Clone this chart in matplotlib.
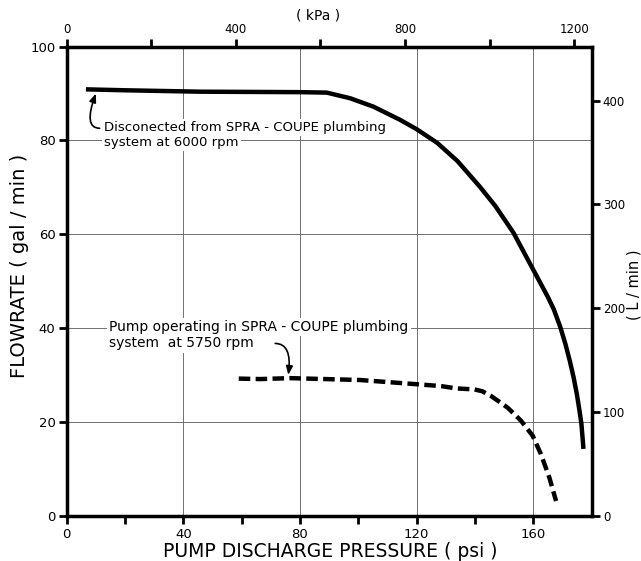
import matplotlib
matplotlib.use("Agg")
import matplotlib.pyplot as plt

# ---- data ----
solid_psi = [6.6, 20, 45.7, 80, 89.2, 97.2, 105.2, 114.3, 120, 127, 134, 141.7, 147,
             153.2, 160, 165, 167, 169.2, 171, 172.5, 173.8, 174.9, 175.8, 176.5, 177.2]
solid_gpm = [90.9, 90.7, 90.4, 90.3, 90.2, 89.0, 87.2, 84.4, 82.4, 79.5, 75.6, 70.1, 66.0,
             60.3, 52.4, 46.6, 44.0, 40.3, 36.6, 33.0, 29.5, 26.0, 22.5, 19.5, 14.2]

dashed_psi = [59, 66.3, 76.6, 100.6, 120, 128.4, 133.7, 139.8, 142.5, 145.5, 151.2,
              155.8, 159.8, 162.6, 165.5, 167.8]
dashed_gpm = [29.2, 29.1, 29.3, 28.9, 28.0, 27.6, 27.1, 26.9, 26.5, 25.5, 23.0,
              20.2, 17.0, 13.1, 8.1, 3.1]

psi_major = [0, 40, 80, 120, 160]
psi_minor = [20, 60, 100, 140]
gpm_ticks = [0, 20, 40, 60, 80, 100]
kpa_major = [0, 400, 800, 1200]
kpa_minor = [200, 600, 1000]
lpm_ticks = [0, 100, 200, 300, 400]

solid_text = ["Disconected from SPRA - COUPE plumbing", "system at 6000 rpm"]
dashed_text = ["Pump operating in SPRA - COUPE plumbing", "system  at 5750 rpm"]

PSI_MAX = 180
GPM_MAX = 100
KPA_PER_PSI = 6.894757
LPM_MAX = 452

plt.rcParams['font.family'] = ['DejaVu Sans']

fig = plt.figure(figsize=(6.41, 5.61), dpi=100)
ax = fig.add_axes([0.104, 0.0811, 0.819, 0.8357])

ax.set_xlim(0, PSI_MAX)
ax.set_ylim(0, GPM_MAX)
ax.set_xticks(psi_major)
ax.set_xticks(psi_minor, minor=True)
ax.set_yticks(gpm_ticks)
ax.grid(True, which='major', color='0.4', lw=0.65, zorder=0)
ax.set_axisbelow(True)

for s in ax.spines.values():
    s.set_linewidth(2.5)

ax.tick_params(axis='x', which='both', direction='out', length=6, width=2,
               labelsize=9.5, pad=3)
ax.tick_params(axis='y', which='both', direction='out', length=6, width=2,
               labelsize=9.5, pad=2)

ax.plot(solid_psi, solid_gpm, color='black', lw=3.2, solid_capstyle='butt',
        solid_joinstyle='round', zorder=3)
ax.plot(dashed_psi, dashed_gpm, color='black', lw=3.2,
        linestyle=(0, (2.6, 1.2)), dash_capstyle='butt', zorder=3)

# annotations
bbox = dict(facecolor='white', edgecolor='none', pad=1.5)
ax.text(12.8, 82.7, solid_text[0], fontsize=9.5, ha='left', va='center', bbox=bbox, zorder=4)
ax.text(12.8, 79.5, solid_text[1], fontsize=9.5, ha='left', va='center', bbox=bbox, zorder=4)
ax.text(14.6, 40.2, dashed_text[0], fontsize=10, ha='left', va='center', bbox=bbox, zorder=4)
ax.text(14.6, 36.7, dashed_text[1], fontsize=10, ha='left', va='center', bbox=bbox, zorder=4)

arrow = dict(arrowstyle='-|>,head_length=0.5,head_width=0.2', color='black', lw=1.2,
             shrinkA=0, shrinkB=0)
ax.annotate('', xy=(10.0, 90.0), xytext=(11.3, 82.6),
            arrowprops=dict(arrow, connectionstyle='angle3,angleA=0,angleB=70'),
            zorder=5)
ax.annotate('', xy=(76.0, 30.0), xytext=(71.5, 36.7),
            arrowprops=dict(arrow, connectionstyle='angle3,angleA=0,angleB=83'),
            zorder=5)

# top kPa axis
axt = ax.twiny()
axt.set_xlim(0, PSI_MAX * KPA_PER_PSI)
axt.set_xticks(kpa_major)
axt.set_xticks(kpa_minor, minor=True)
axt.tick_params(axis='x', which='both', direction='out', length=6, width=2,
                labelsize=8.5, pad=2)
for s in axt.spines.values():
    s.set_visible(False)

# right L/min axis
axr = ax.twinx()
axr.set_ylim(0, LPM_MAX)
axr.set_yticks(lpm_ticks)
axr.tick_params(axis='y', which='both', direction='out', length=6, width=2,
                labelsize=8.5, pad=2)
for s in axr.spines.values():
    s.set_visible(False)

fig.text(330 / 641, 1 - 551.5 / 561, "PUMP DISCHARGE PRESSURE ( psi )", fontsize=13.5,
         ha='center', va='center')
fig.text(20 / 641, 1 - 266 / 561, "FLOWRATE ( gal / min )", fontsize=14,
         ha='center', va='center', rotation=90)
fig.text(318.5 / 641, 1 - 15.5 / 561, "( kPa )", fontsize=10, ha='center', va='center')
fig.text(634 / 641, 1 - 285 / 561, "( L / min )", fontsize=10.5, ha='center', va='center',
         rotation=90)

fig.savefig("out.png", dpi=100)
